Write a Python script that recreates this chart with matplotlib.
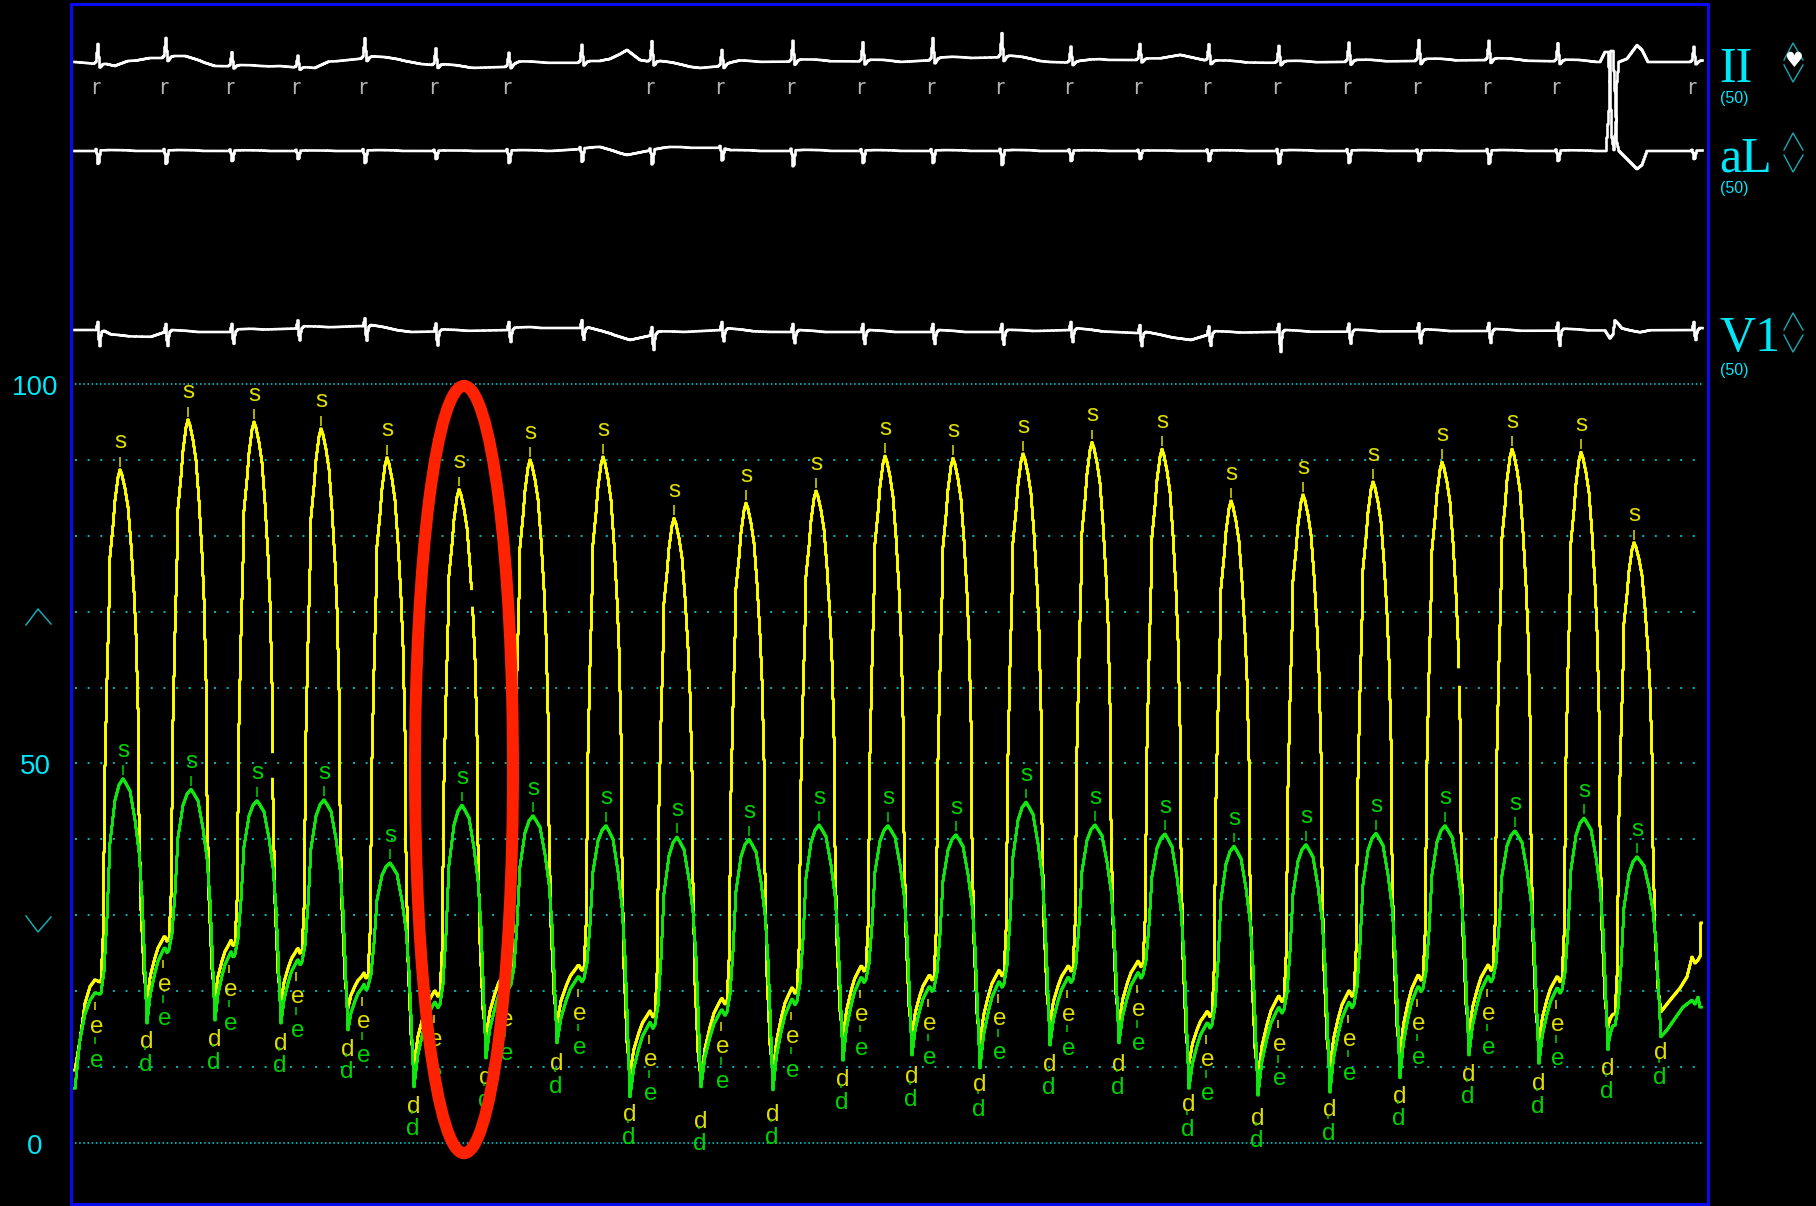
import numpy as np
import matplotlib
matplotlib.use("Agg")
import matplotlib.pyplot as plt
from matplotlib.patches import Ellipse
from matplotlib.transforms import blended_transform_factory

plt.rcParams['lines.scale_dashes'] = False

# ---------------- data ----------------
# times in ms from the start of the sweep
beat_t = [245, 585, 915, 1250, 1580, 1940, 2295, 2660, 3015, 3375, 3725, 4070,
          4410, 4760, 5105, 5455, 5800, 6160, 6510, 6855, 7205, 7550, 7815]
premature = [False] * 22 + [True]

# LV pressure (yellow), mmHg
lv_sys = [88.7, 95.3, 95.0, 94.1, 90.3, 86.1, 90.0, 90.4, 82.3, 84.3, 85.9, 90.5,
          90.2, 90.8, 92.3, 91.4, 84.6, 85.4, 87.1, 89.7, 91.4, 91.0, 79.1]
lv_min = [18.8, 19.1, 18.6, 17.8, 10.3, 14.0, 15.9, 9.2, 8.3, 9.2, 13.8, 14.2,
          13.2, 15.8, 15.8, 10.5, 8.7, 9.9, 11.6, 14.5, 13.3, 15.2, 17.3]
lv_edp = [21.5, 27.0, 26.4, 25.4, 22.1, 19.8, 22.4, 23.2, 17.1, 18.8, 20.2, 23.1,
          21.9, 22.5, 23.1, 23.7, 17.1, 19.1, 19.8, 21.9, 23.2, 21.7, 17.0]
# drop-outs on the falling limb of the yellow trace (beat index, mmHg range)
lv_gap_beat = [2, 5, 19]
lv_gap_lo = [48.1, 70.5, 60.1]
lv_gap_hi = [51.4, 73.0, 62.7]

# second pressure channel (green), mmHg
ao_sys = [48.0, 46.6, 45.1, 45.2, 36.9, 44.5, 43.1, 41.8, 40.3, 40.0, 41.9, 41.8,
          40.6, 44.9, 41.9, 40.7, 39.1, 39.3, 40.8, 41.8, 41.1, 42.8, 37.7]
ao_min = [15.8, 16.2, 15.8, 14.9, 7.4, 11.2, 13.2, 6.1, 7.4, 7.0, 10.9, 11.6,
          9.9, 12.9, 13.2, 7.2, 6.3, 6.7, 8.6, 11.6, 10.5, 12.3, 14.0]
ao_edp = [19.8, 25.5, 24.9, 23.9, 20.6, 18.3, 20.9, 21.7, 15.6, 17.3, 18.7, 21.6,
          20.4, 21.0, 21.6, 22.2, 15.6, 17.6, 18.3, 20.4, 21.7, 20.2, 15.5]

# start and end of the sweep
head_t = [20, 45, 70, 95, 120, 145]
head_lv = [9.6, 13.6, 18.4, 20.6, 21.5, 21.2]
head_ao = [7.2, 13.6, 17.0, 18.8, 19.8, 19.6]
tail_t_lv = [7995, 8045, 8080, 8105, 8120, 8135, 8145, 8150]
tail_lv = [18.8, 20.4, 21.9, 24.5, 23.7, 24.1, 24.6, 29.0]
tail_t_ao = [7980, 8060, 8105, 8120, 8135, 8145]
tail_ao = [14.9, 17.9, 18.8, 18.3, 19.2, 17.9]

# ECG: R-wave times (conducted beats) and amplitudes, mV
r_t = [135, 475, 805, 1135, 1470, 1825, 2190, 2555, 2905, 3255, 3610, 3960,
       4310, 4655, 5000, 5345, 5690, 6040, 6390, 6740, 7090, 7435, 8115]
r_marked = [True] * 7 + [False] + [True] * 15
ii_amp = [0.50, 0.50, 0.35, 0.30, 0.50, 0.42, 0.35, 0.45, 0.52, 0.40, 0.52, 0.48,
          0.55, 0.60, 0.40, 0.40, 0.42, 0.42, 0.48, 0.52, 0.48, 0.45, 0.38]
al_depth = [0.32, 0.32, 0.25, 0.20, 0.30, 0.20, 0.30, 0.32, 0.35, 0.30, 0.38, 0.30,
            0.30, 0.35, 0.25, 0.20, 0.25, 0.32, 0.30, 0.25, 0.32, 0.25, 0.20]
v1_depth = [0.38, 0.35, 0.30, 0.30, 0.35, 0.35, 0.30, 0.28, 0.38, 0.28, 0.28, 0.30,
            0.30, 0.32, 0.30, 0.32, 0.30, 0.50, 0.30, 0.30, 0.30, 0.38, 0.25]

# baseline drift per lead (ms, mV)
ii_drift_t = [20, 135, 220, 285, 395, 570, 645, 720, 945, 1045, 1220, 1290, 1480, 1645,
              1750, 1995, 2190, 2245, 2645, 2695, 2780, 2845, 2905, 3145, 3255, 3345,
              3845, 4145, 4495, 4655, 4895, 5030, 5145, 5445, 5545, 5645, 5710, 5995,
              6645, 7095, 7395, 7645, 8155]
ii_drift_v = [0.0, -0.05, -0.15, 0.0, 0.1, 0.1, 0.02, -0.1, -0.12, -0.1, -0.18, 0.0, 0.1,
              0.05, -0.05, -0.15, -0.12, -0.02, -0.02, 0.05, 0.3, 0.05, 0.0, -0.15, -0.1,
              0.0, 0.02, 0.0, 0.1, 0.12, 0.0, -0.02, 0.05, 0.05, 0.18, 0.07, 0.0, -0.02,
              0.02, 0.05, 0.02, 0.0, 0.0]
al_drift_t = [20, 2400, 2645, 2780, 2880, 3000, 3245, 3300, 8155]
al_drift_v = [0.0, 0.0, 0.08, -0.1, 0.0, 0.08, 0.08, 0.0, 0.0]
v1_drift_t = [20, 135, 200, 400, 470, 800, 900, 1200, 1450, 1550, 1700, 2200, 2300,
              2550, 2700, 2795, 2950, 3250, 3500, 4650, 5000, 5350, 5600, 5710, 6000, 8155]
v1_drift_v = [0.05, 0.05, -0.1, -0.12, 0.0, 0.0, 0.05, 0.1, 0.15, 0.1, 0.0, 0.05, 0.1,
              0.1, -0.05, -0.2, -0.03, 0.05, 0.0, 0.0, 0.05, -0.03, -0.2, -0.03, 0.0, 0.05]

# ventricular premature complex
pvc_ii_t = [7645, 7670, 7685, 7695, 7705, 7715, 7725, 7730, 7740, 7780, 7830, 7855, 7885]
pvc_ii_v = [0.0, 0.25, 0.25, -0.5, -1.9, -2.2, -1.5, -0.5, 0.0, 0.08, 0.42, 0.3, 0.0]
pvc_al_t = [7675, 7690, 7700, 7710, 7720, 7730, 7740, 7780, 7830, 7855, 7880]
pvc_al_v = [0.0, 1.0, 2.5, 2.5, 1.5, 0.2, 0.0, -0.2, -0.45, -0.35, 0.0]
pvc_v1_t = [7670, 7695, 7710, 7720, 7730, 7755, 7795, 7845, 7895]
pvc_v1_v = [0.0, -0.2, -0.1, 0.25, 0.2, 0.05, 0.0, -0.05, 0.0]

# ---------------- waveform shapes ----------------
DT = 5.0
LV_RISE_T = [-95, -85, -75, -65, -55, -50, -35, -25, -10, 0]
LV_RISE_F = [0, 0.08, 0.42, 0.59, 0.73, 0.83, 0.89, 0.94, 0.985, 1.0]
LV_FALL_T = [0, 10, 25, 40, 55, 70, 80, 90, 95, 105, 120, 135]
LV_FALL_F = [1.0, 0.99, 0.965, 0.93, 0.86, 0.77, 0.69, 0.55, 0.35, 0.17, 0.05, 0.0]
AO_LAG = 15
AO_RISE_T = [-110, -95, -80, -65, -40, -20, 0]
AO_RISE_F = [0, 0.1, 0.35, 0.7, 0.9, 0.97, 1.0]
AO_FALL_T = [0, 15, 35, 60, 80, 95, 105, 115, 120]
AO_FALL_F = [1.0, 0.98, 0.95, 0.83, 0.70, 0.52, 0.32, 0.1, 0.0]
FILL_POS = [0.15, 0.35, 0.5, 0.7, 0.8, 0.92]
FILL_F = [0.39, 0.67, 0.84, 0.97, 1.0, 1.0]
FILL_BUMP = [0, 0, 0, 0, 0.3, -0.5]


def pressure_knots(lag, rise_t, rise_f, fall_t, fall_f, sys_, mn, edp,
                   h_t, h_v, t_t, t_v):
    ts, vs = list(h_t), list(h_v)
    n = len(beat_t)
    for i in range(n):
        tp = beat_t[i] + lag
        P, m, e = sys_[i], mn[i], edp[i]
        for o, f in zip(rise_t, rise_f):
            ts.append(tp + o)
            vs.append(e + f * (P - e))
        for o, f in zip(fall_t[1:], fall_f[1:]):
            ts.append(tp + o)
            vs.append(m + f * (P - m))
        if i + 1 < n:
            t0 = tp + fall_t[-1]
            t1 = beat_t[i + 1] + lag + rise_t[0]
            gap = t1 - t0
            en = edp[i + 1]
            for pos, f, b in zip(FILL_POS, FILL_F, FILL_BUMP):
                ts.append(t0 + pos * gap)
                vs.append(m + f * (en - m) + (b if gap >= 60 else 0.0))
    ts += list(t_t)
    vs += list(t_v)
    return np.array(ts, float), np.array(vs, float)


def stair(t, y, gaps=()):
    """Sample-and-hold path of a sampled trace, with optional value drop-outs."""
    xs = np.repeat(t, 2) + np.tile([-DT / 2, DT / 2], len(t))
    ys = np.repeat(y, 2)
    px, py = [xs[0]], [ys[0]]
    for k in range(1, len(xs)):
        x, ya, yb = xs[k], ys[k - 1], ys[k]
        hit = [g for g in gaps if g[0] <= x <= g[1]]
        if hit and xs[k - 1] == x and ya != yb:
            seg = np.linspace(ya, yb, 60)
            for g in hit:
                seg = np.where((seg > g[2]) & (seg < g[3]), np.nan, seg)
            px.extend([x] * len(seg))
            py.extend(seg.tolist())
        else:
            px.append(x)
            py.append(yb)
    return np.array(px), np.array(py)


t_p = np.arange(20, 8150 + 1, DT)
k_lv = pressure_knots(0, LV_RISE_T, LV_RISE_F, LV_FALL_T, LV_FALL_F, lv_sys, lv_min,
                      lv_edp, head_t, head_lv, tail_t_lv, tail_lv)
k_ao = pressure_knots(AO_LAG, AO_RISE_T, AO_RISE_F, AO_FALL_T, AO_FALL_F, ao_sys, ao_min,
                      ao_edp, head_t, head_ao, tail_t_ao, tail_ao)
lv = np.interp(t_p, *k_lv)
ao = np.interp(t_p, *k_ao)
lv_gaps = [(beat_t[b] + 40, beat_t[b] + 110, lo, hi)
           for b, lo, hi in zip(lv_gap_beat, lv_gap_lo, lv_gap_hi)]

t_e = np.arange(20, 8155 + 1, DT)
II_OFF = [-20, -10, -5, 0, 5, 10, 15, 25, 40, 100, 150, 190]
II_FRAC = [0, 0.1, 0.55, 1.0, 0.35, -0.15, -0.1, 0.05, 0.1, 0.1, 0.05, 0]
AL_OFF = [-15, -10, -5, 0, 5, 10, 15, 25, 60, 150, 190]
AL_FRAC = [0, 0.15, -0.2, -1.0, -0.9, -0.3, 0.05, 0.05, 0.08, 0.05, 0]
V1_OFF = [-15, -10, -5, 0, 5, 10, 15, 20, 30, 100, 160]
V1_R = 0.2


def complexes(amps, off, frac):
    out = np.zeros_like(t_e)
    for t0, a in zip(r_t, amps):
        out += np.interp(t_e, t0 + np.asarray(off, float), a * np.asarray(frac, float),
                         left=0, right=0)
    return out


def v1_complexes():
    out = np.zeros_like(t_e)
    for t0, s in zip(r_t, v1_depth):
        vals = [0, 0, 0.5 * V1_R, V1_R, -0.6 * s, -s, -0.3 * s, 0, 0.05, 0.03, 0]
        out += np.interp(t_e, t0 + np.asarray(V1_OFF, float), vals, left=0, right=0)
    return out


ecg_ii = (np.interp(t_e, ii_drift_t, ii_drift_v) + complexes(ii_amp, II_OFF, II_FRAC)
          + np.interp(t_e, pvc_ii_t, pvc_ii_v, left=0, right=0))
ecg_al = (np.interp(t_e, al_drift_t, al_drift_v) + complexes(al_depth, AL_OFF, AL_FRAC)
          + np.interp(t_e, pvc_al_t, pvc_al_v, left=0, right=0))
ecg_v1 = (np.interp(t_e, v1_drift_t, v1_drift_v) + v1_complexes()
          + np.interp(t_e, pvc_v1_t, pvc_v1_v, left=0, right=0))

# ---------------- figure ----------------
W, H = 1816, 1206
YEL, GRN = '#ffff00', '#10e810'
YTXT, GTXT = '#dede00', '#00d400'
CYAN = '#00e8f8'
GRID = '#00b8c0'
DIM = '#1aa8b4'
BLUE = '#0a0af0'
XMAX = 8185

fig = plt.figure(figsize=(W / 100, H / 100), dpi=100, facecolor='black')


def box(x0, y0, x1, y1):
    return [x0 / W, 1 - y1 / H, (x1 - x0) / W, (y1 - y0) / H]


ax = fig.add_axes(box(71, 4, 1708, 1204))
ax.set_facecolor('black')
ax.set_xlim(0, XMAX)
ax.set_ylim(-8.04, 150.07)
ax.set_xticks([])
ax.set_yticks([])
for sp in ax.spines.values():
    sp.set_color(BLUE)
    sp.set_linewidth(2.2)

# dotted scale lines
for lvl in range(0, 101, 10):
    if lvl in (0, 100):
        ax.plot([20, 8155], [lvl, lvl], color=GRID, lw=1.3, dashes=(1.1, 1.9), zorder=1)
    else:
        ax.plot([20, 8145], [lvl, lvl], color=GRID, lw=1.4, dashes=(1.4, 7.7), zorder=1)

ax.plot(*stair(t_p, lv, lv_gaps), color=YEL, lw=2.1, zorder=3)
ax.plot(*stair(t_p, ao), color=GRN, lw=2.1, zorder=4)

lab = dict(ha='center', va='center', fontsize=17.5, family='Liberation Sans', zorder=6)


def tick(x, y0, y1, c):
    ax.plot([x, x], [y0, y1], color=c, lw=1.1, solid_capstyle='butt', zorder=6)


MIN_LAG = 135
for i, tp in enumerate(beat_t):
    tg = tp + AO_LAG
    ax.text(tp, lv_sys[i] + 3.6, 's', color=YTXT, **lab)
    tick(tp, lv_sys[i] + 0.4, lv_sys[i] + 1.7, YTXT)
    ax.text(tg, ao_sys[i] + 3.6, 's', color=GTXT, **lab)
    tick(tg, ao_sys[i] + 0.5, ao_sys[i] + 1.8, GTXT)
    tm = tp + MIN_LAG
    yd = lv_min[i] - 5.5
    gd = min(ao_min[i] - 5.5, yd - 3.0)
    ax.text(tm - 3, yd, 'd', color=YTXT, **lab)
    ax.text(tm - 8, gd, 'd', color=GTXT, **lab)
    tick(tm - 8, gd + 2.0, gd + 2.5, GTXT)
    if not premature[i]:
        te = tp - 115
        ye = lv_edp[i] - 6.2
        ge = ye - 4.5
        ax.text(te, ye, 'e', color=YTXT, **lab)
        tick(te - 10, ye + 2.2, ye + 3.3, YTXT)
        ax.text(te - 3, ge, 'e', color=GTXT, **lab)
        tick(te - 10, ge + 2.2, ge + 3.2, GTXT)

# highlighted beat
ax.add_patch(Ellipse((1965, 49.2), width=490, height=101.1, fill=False,
                     edgecolor='#ff2200', lw=8.6, zorder=10))

# pressure scale numbers
tr = blended_transform_factory(fig.dpi_scale_trans, ax.transData)
for v, s in [(100, '100'), (50, '50'), (0, '0')]:
    ax.text(0.35, v - 0.5, s, transform=tr, color=CYAN, fontsize=20,
            family='Liberation Sans', ha='center', va='center')

# ECG leads
leads = [(62, ecg_ii), (151, ecg_al), (332, ecg_v1)]
ecg_axes = []
for base, sig in leads:
    a = fig.add_axes(box(71, base - 100, 1708, base + 100))
    a.set_xlim(0, XMAX)
    a.set_ylim(-2.5, 2.5)
    a.axis('off')
    a.patch.set_alpha(0)
    a.plot(*stair(t_e, sig), color='white', lw=1.9, clip_on=False)
    ecg_axes.append(a)

for t0, mk in zip(r_t, r_marked):
    if mk:
        ecg_axes[0].text(t0 - 15, -0.65, 'r', color='#b4b4b4', fontsize=15,
                         family='DejaVu Sans', ha='center', va='center')

# side decorations
deco = fig.add_axes([0, 0, 1, 1])
deco.set_xlim(0, W)
deco.set_ylim(H, 0)
deco.axis('off')
deco.patch.set_alpha(0)

for name, base, sub in [('II', 82, 98), ('aL', 172, 189), ('V1', 351, 370)]:
    deco.text(1719, base, name, color=CYAN, fontsize=36, family='Liberation Serif',
              ha='left', va='baseline')
    deco.text(1720, sub, '(50)', color=CYAN, fontsize=11.5, family='Liberation Sans',
              ha='left', va='center')

for top in (43, 133, 313):
    deco.plot([1784, 1793, 1803], [top + 17, top, top + 17], color=DIM, lw=1.0)
    deco.plot([1784, 1793, 1803], [top + 22, top + 39, top + 22], color=DIM, lw=1.0)
deco.text(1794, 61, '\u2665', color='white', fontsize=15, family='DejaVu Sans',
          ha='center', va='center')

deco.plot([26, 38, 51], [625, 609, 624], color=DIM, lw=1.1)
deco.plot([26, 38, 51], [916, 932, 917], color=DIM, lw=1.1)

fig.savefig('out.png', dpi=100, facecolor='black')
